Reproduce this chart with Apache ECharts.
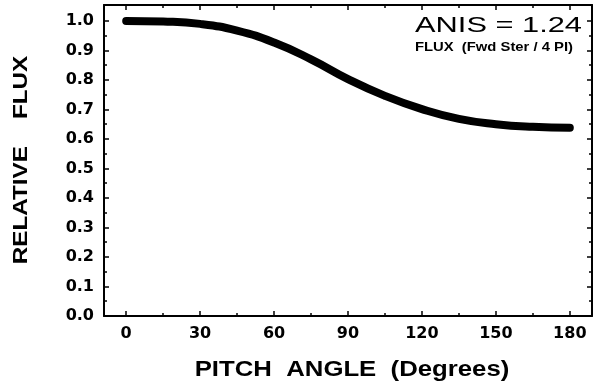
<!DOCTYPE html>
<html>
<head>
<meta charset="utf-8">
<script src="https://cdn.jsdelivr.net/npm/echarts@6/dist/echarts.min.js"></script>
<style>
  html, body { margin: 0; padding: 0; background: #ffffff; }
  #chart { width: 593px; height: 381px; }
</style>
</head>
<body>
<div id="chart"></div>
<script>
// Pitch-angle distribution, relative flux versus pitch angle
const pitchAngles = [0, 15, 30, 45, 60, 75, 90, 105, 120, 135, 150, 165, 180];
const relativeFlux = [1.000, 0.998, 0.990, 0.967, 0.927, 0.870, 0.803, 0.746, 0.701, 0.668, 0.650, 0.641, 0.638];

// Axis ticks and labels
const xMajorTicks = [0, 30, 60, 90, 120, 150, 180];
const xMinorTicks = [15, 45, 75, 105, 135, 165];
const yMajorTicks = [0.0, 0.1, 0.2, 0.3, 0.4, 0.5, 0.6, 0.7, 0.8, 0.9, 1.0];
const yMinorTicks = [0.05, 0.15, 0.25, 0.35, 0.45, 0.55, 0.65, 0.75, 0.85, 0.95];
const xRange = [-9, 189];
const yRange = [0, 1.054];

// Annotation texts
const anisText = 'ANIS = 1.24';
const fluxNote = 'FLUX  (Fwd Ster / 4 PI)';
const yTitle = 'RELATIVE    FLUX';
const xTitle = 'PITCH  ANGLE  (Degrees)';

const INK = '#000000';
const labelFont = { fontFamily: 'DejaVu Sans', fontWeight: 'bold', fontSize: 16, color: INK };

// One framing axis: either the major ticks (with line and optional labels) or the minor ticks only
function frameAxis(position, range, ticks, major, withLabels, fmt, margin) {
  return {
    type: 'value',
    position: position,
    min: range[0],
    max: range[1],
    axisLine: { show: major, onZero: false, lineStyle: { color: INK, width: 2 } },
    axisTick: {
      show: true, inside: true, length: major ? 5 : 3,
      customValues: ticks,
      lineStyle: { color: INK, width: 1.5 }
    },
    minorTick: { show: false },
    splitLine: { show: false },
    axisLabel: withLabels ? Object.assign({
      show: true, margin: margin, customValues: ticks, formatter: fmt
    }, labelFont) : { show: false }
  };
}

const chart = echarts.init(document.getElementById('chart'), null, { renderer: 'canvas' });

chart.setOption({
  animation: false,
  backgroundColor: '#ffffff',
  grid: { left: 104, right: 1, top: 5, bottom: 65, containLabel: false },
  xAxis: [
    frameAxis('bottom', xRange, xMajorTicks, true, true, v => String(v), 10),
    frameAxis('bottom', xRange, xMinorTicks, false, false),
    frameAxis('top', xRange, xMajorTicks, true, false),
    frameAxis('top', xRange, xMinorTicks, false, false)
  ],
  yAxis: [
    frameAxis('left', yRange, yMajorTicks, true, true, v => v.toFixed(1), 10),
    frameAxis('left', yRange, yMinorTicks, false, false),
    frameAxis('right', yRange, yMajorTicks, true, false),
    frameAxis('right', yRange, yMinorTicks, false, false)
  ],
  series: [{
    type: 'line',
    xAxisIndex: 0,
    yAxisIndex: 0,
    data: pitchAngles.map((a, i) => [a, relativeFlux[i]]),
    smooth: 0.5,
    showSymbol: false,
    symbol: 'none',
    clip: false,
    lineStyle: { color: INK, width: 8, cap: 'round', join: 'round' }
  }],
  graphic: [
    {
      type: 'text', x: 582, y: 26, scaleX: 1.4,
      style: {
        text: anisText, font: '22px "Liberation Sans"', fill: INK,
        align: 'right', verticalAlign: 'middle', textAlign: 'right', textVerticalAlign: 'middle'
      }
    },
    {
      type: 'text', x: 573, y: 47, scaleX: 1.14,
      style: {
        text: fluxNote, font: 'bold 13px "Liberation Sans"', fill: INK,
        align: 'right', verticalAlign: 'middle', textAlign: 'right', textVerticalAlign: 'middle'
      }
    },
    {
      type: 'text', x: 21, y: 160, rotation: Math.PI / 2, scaleX: 1.155,
      style: {
        text: yTitle, font: 'bold 21px "Liberation Sans"', fill: INK,
        align: 'center', verticalAlign: 'middle', textAlign: 'center', textVerticalAlign: 'middle'
      }
    },
    {
      type: 'text', x: 352, y: 370, scaleX: 1.17,
      style: {
        text: xTitle, font: 'bold 22px "Liberation Sans"', fill: INK,
        align: 'center', verticalAlign: 'middle', textAlign: 'center', textVerticalAlign: 'middle'
      }
    }
  ]
});
</script>
</body>
</html>
